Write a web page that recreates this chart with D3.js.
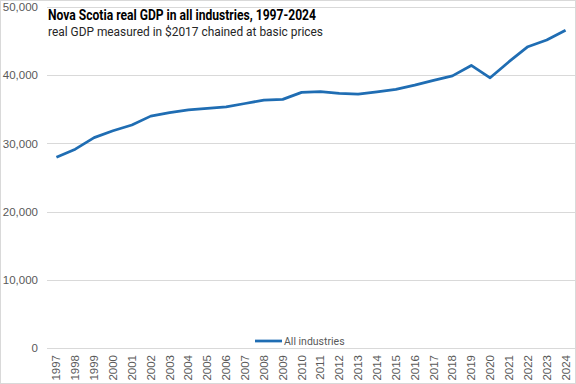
<!DOCTYPE html>
<html lang="en">
<head>
<meta charset="UTF-8">
<title>Nova Scotia real GDP</title>
<script src="https://d3js.org/d3.v7.min.js"></script>
<style>
  body { margin: 0; background: white; }
  svg { display: block; font-family: Roboto, "Open Sans", sans-serif; }
</style>
</head>
<body>
<svg id="chart"></svg>
<script>
const years = ["1997","1998","1999","2000","2001","2002","2003","2004","2005","2006",
  "2007","2008","2009","2010","2011","2012","2013","2014","2015","2016",
  "2017","2018","2019","2020","2021","2022","2023","2024"];
const allIndustries = [27960, 29150, 30850, 31850, 32700, 34000, 34500, 34900, 35150, 35350,
  35850, 36350, 36460, 37480, 37580, 37330, 37230, 37570, 37920, 38550,
  39250, 39900, 41430, 39620, 41980, 44180, 45150, 46600];
const yTicks = [0, 10000, 20000, 30000, 40000, 50000];
const seriesName = "All industries";
const title = "Nova Scotia real GDP in all industries,  1997-2024";
const subtitle = "real GDP measured  in $2017 chained at basic prices";

const w = 576, h = 384;
const margin = { left: 47, right: 1, top: 7, bottom: 36 };

const svg = d3.select("#chart").attr("width", w).attr("height", h);

// outer border
svg.append("rect")
  .attr("x", 0.5).attr("y", 0.5)
  .attr("width", w - 1).attr("height", h - 1)
  .attr("fill", "white").attr("stroke", "#d9d9d9");

const x = d3.scaleBand()
  .domain(years)
  .range([margin.left, w - margin.right]);

const y = d3.scaleLinear()
  .domain([0, 50000])
  .range([h - margin.bottom, margin.top]);

// gridlines
svg.append("g")
  .selectAll("line")
  .data(yTicks)
  .join("line")
  .attr("x1", margin.left).attr("x2", w - margin.right)
  .attr("y1", d => Math.round(y(d)) + 0.5).attr("y2", d => Math.round(y(d)) + 0.5)
  .attr("stroke", "#d9d9d9");

// y axis labels
const yAxis = d3.axisLeft(y)
  .tickValues(yTicks)
  .tickFormat(d3.format(","))
  .tickSize(0)
  .tickPadding(9);

svg.append("g")
  .attr("transform", "translate(" + margin.left + ",0)")
  .call(yAxis)
  .call(g => g.select(".domain").remove())
  .call(g => g.selectAll("text")
    .attr("fill", "#595959")
    .style("font-size", "11.5px"));

// x axis labels
const xAxis = d3.axisBottom(x).tickSize(0).tickPadding(0);
svg.append("g")
  .attr("transform", "translate(0," + (h - margin.bottom) + ")")
  .call(xAxis)
  .call(g => g.select(".domain").remove())
  .call(g => g.selectAll("text")
    .attr("fill", "#595959")
    .style("font-size", "11.5px")
    .attr("text-anchor", "end")
    .attr("dy", "0.35em")
    .attr("transform", "translate(0,7) rotate(-90)")
    .attr("x", 0).attr("y", 0));

// line
const line = d3.line()
  .x((d, i) => x(years[i]) + x.bandwidth() / 2)
  .y(d => y(d));

svg.append("path")
  .datum(allIndustries)
  .attr("d", line)
  .attr("fill", "none")
  .attr("stroke", "#1f6db3")
  .attr("stroke-width", 2.75)
  .attr("stroke-linejoin", "round");

// titles
svg.append("text")
  .attr("x", 48).attr("y", 20)
  .style("font-size", "15px")
  .style("font-weight", "bold")
  .attr("fill", "#000")
  .attr("textLength", 268)
  .attr("lengthAdjust", "spacingAndGlyphs")
  .text(title);

svg.append("text")
  .attr("x", 48).attr("y", 36)
  .style("font-size", "12.5px")
  .attr("fill", "#262626")
  .attr("textLength", 275)
  .attr("lengthAdjust", "spacingAndGlyphs")
  .text(subtitle);

// legend
const legend = svg.append("g").attr("transform", "translate(255,341)");
legend.append("line")
  .attr("x1", 0).attr("x2", 27)
  .attr("stroke", "#1f6db3").attr("stroke-width", 2.75);
legend.append("text")
  .attr("x", 29).attr("y", 0).attr("dy", "0.35em")
  .style("font-size", "10.5px")
  .attr("fill", "#595959")
  .text(seriesName);
</script>
</body>
</html>
